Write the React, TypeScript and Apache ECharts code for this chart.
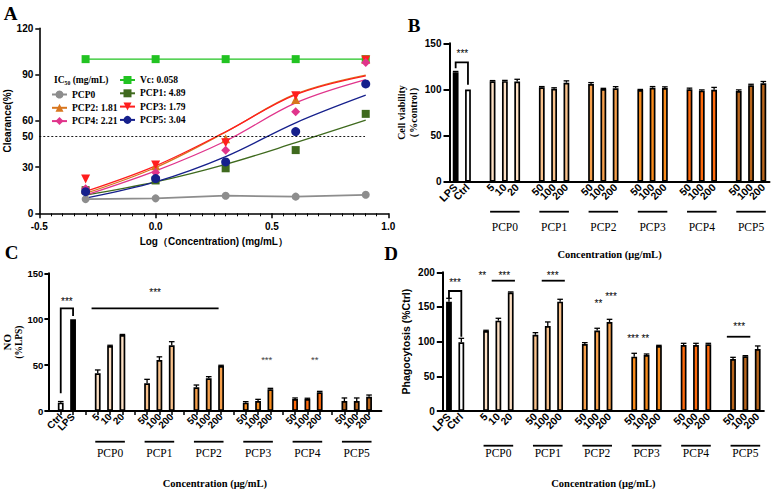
import React, { useEffect, useRef } from "react";
import * as echarts from "echarts";

const SANS = '"Liberation Sans", Arial, sans-serif';
const SERIF = '"Liberation Serif", "Times New Roman", serif';

// ---------------- Panel A data ----------------
const logConcentrations = [-0.301, 0, 0.301, 0.602, 0.903];
const vcClearance = [100, 100, 100, 100, 100];
const pcp0Clearance = [9.2, 9.7, 11.4, 10.8, 12.0];
const pcp1Clearance = [15.0, 21.3, 29.2, 41.0, 64.5];
const pcp2Clearance = [15.7, 30.8, 48.4, 73.8, 100.0];
const pcp3Clearance = [22.2, 31.4, 45.8, 76.3, 99.5];
const pcp4Clearance = [16.0, 26.5, 40.9, 65.8, 97.8];
const pcp5Clearance = [14.0, 22.5, 33.3, 53.0, 83.9];
const pcp1Fit = [11.8, 20.4, 31.8, 45.8, 60.4];
const pcp2Fit = [12.9, 29.7, 52.7, 77.4, 89.7];
const pcp3Fit = [14.2, 30.8, 52.9, 77.0, 89.2];
const pcp4Fit = [11.8, 27.5, 46.9, 71.6, 86.7];
const pcp5Fit = [9.9, 20.4, 36.8, 58.7, 76.6];
const aSeriesNames = ["Vc", "PCP0", "PCP1", "PCP2", "PCP3", "PCP4", "PCP5"];
const aPoints = [vcClearance, pcp0Clearance, pcp1Clearance, pcp2Clearance, pcp3Clearance, pcp4Clearance, pcp5Clearance];
const aFits = [null, null, pcp1Fit, pcp2Fit, pcp3Fit, pcp4Fit, pcp5Fit];
const ic50Values = ["0.058", "", "4.89", "1.81", "1.79", "2.21", "3.04"];
const legendColumn1 = ["PCP0", "PCP2", "PCP4"];
const legendColumn2 = ["Vc", "PCP1", "PCP3", "PCP5"];
const halfClearance = 50;
const halfLineEnd = 0.9;

// ---------------- Bar panels data ----------------
const pcpGroups = ["PCP0", "PCP1", "PCP2", "PCP3", "PCP4", "PCP5"];
const groupConcentrations = [
  ["5", "10", "20"],
  ["50", "100", "200"],
  ["50", "100", "200"],
  ["50", "100", "200"],
  ["50", "100", "200"],
  ["50", "100", "200"],
];

// B: cell viability
const bControls = ["LPS", "Ctrl"];
const bControlValues = [118.5, 100];
const bControlErrors = [1.0, 0];
const bValues = [
  [108.8, 109.0, 108.5],
  [102.3, 100.8, 107.3],
  [105.9, 100.5, 101.2],
  [99.4, 101.9, 101.6],
  [100.1, 98.7, 99.7],
  [98.3, 104.4, 106.6],
];
const bErrors = [
  [0.8, 0.8, 2.5],
  [0.8, 1.0, 2.0],
  [1.5, 0.7, 1.8],
  [0.6, 1.2, 1.2],
  [1.3, 0.8, 2.5],
  [1.2, 1.2, 2.0],
];
const bSigTexts = [{ x: 0.55, y: 140.6, text: "***" }];
const bSigLines = [[[0, 123], [0, 129.4], [1, 129.4], [1, 105]]];

// C: NO
const cControls = ["Ctrl", "LPS"];
const cControlValues = [9.1, 100];
const cControlErrors = [1.2, 0];
const cValues = [
  [41.0, 70.8, 82.8],
  [30.1, 55.6, 71.6],
  [25.8, 35.6, 49.0],
  [9.1, 10.9, 23.6],
  [13.1, 13.1, 20.3],
  [10.9, 10.9, 15.6],
];
const cErrors = [
  [3.7, 0.8, 0.6],
  [4.4, 3.4, 3.9],
  [2.5, 1.8, 0.8],
  [1.1, 1.8, 1.1],
  [1.1, 0.8, 1.1],
  [3.3, 3.3, 1.8],
];
const cSigTexts = [
  { x: 0.5, y: 121.7, text: "***" },
  { x: 7.65, y: 131, text: "***" },
  { x: 16.7, y: 58.5, text: "***", muted: true },
  { x: 20.6, y: 58.5, text: "**", muted: true },
];
const cSigLines = [
  [[0, 19.3], [0, 111.9], [1, 111.9], [1, 103.5]],
  [[2.5, 111.9], [12.8, 111.9]],
];

// D: phagocytosis
const dControls = ["LPS", "Ctrl"];
const dControlValues = [157.7, 99.0];
const dControlErrors = [4.8, 5.8];
const dValues = [
  [115.4, 130.3, 170.7],
  [110.0, 122.6, 157.7],
  [96.6, 115.9, 128.4],
  [78.4, 80.8, 93.8],
  [95.2, 95.2, 96.2],
  [75.0, 78.8, 89.4],
];
const dErrors = [
  [1.0, 3.4, 1.0],
  [3.0, 5.8, 3.4],
  [2.0, 3.4, 3.8],
  [4.8, 1.4, 0.9],
  [2.4, 2.4, 1.4],
  [2.4, 1.0, 4.4],
];
const dSigTexts = [
  { x: 0.49, y: 187.9, text: "***" },
  { x: 2.7, y: 198.6, text: "**" },
  { x: 4.48, y: 198.6, text: "***" },
  { x: 8.4, y: 198.6, text: "***" },
  { x: 12.1, y: 158.6, text: "**" },
  { x: 13.12, y: 167.3, text: "***" },
  { x: 14.9, y: 107.1, text: "***" },
  { x: 15.9, y: 107.1, text: "**" },
  { x: 23.5, y: 125.4, text: "***" },
];
const dSigLines = [
  [[0, 162.5], [0, 173], [1, 173], [1, 107]],
  [[3.46, 187.9], [5.34, 187.9]],
  [[7.51, 187.9], [9.38, 187.9]],
  [[22.5, 107.1], [24.4, 107.1]],
];

// ---------------- Styles ----------------
const aStyles: Record<string, any> = {
  Vc: { color: "#22c322", symbol: "rect", size: 8, rotate: 0, connect: true, width: 1.4 },
  PCP0: { color: "#8d8d8d", symbol: "circle", size: 8, rotate: 0, connect: true, width: 1.8 },
  PCP1: { color: "#3f6a1e", symbol: "rect", size: 8, rotate: 0 },
  PCP2: { color: "#d8761e", symbol: "triangle", size: 9, rotate: 0 },
  PCP3: { color: "#ff1e1e", symbol: "triangle", size: 9, rotate: 180 },
  PCP4: { color: "#e0348b", symbol: "diamond", size: 9, rotate: 0 },
  PCP5: { color: "#16208c", symbol: "circle", size: 9, rotate: 0 },
};
const groupColors = ["#fde0c4", "#f9c28c", "#f6a04c", "#f98c1c", "#ff6a0c", "#b8651c"];
const controlFills: Record<string, string> = { LPS: "#000000", Ctrl: "#ffffff" };

const pt = (api: any, x: number, y: number) => {
  const i = Math.floor(x);
  const f = x - i;
  const a = api.coord([i, y]);
  if (f === 0) return a;
  const b = api.coord([i + 1, y]);
  return [a[0] + (b[0] - a[0]) * f, a[1]];
};

function buildBarPanel(gi: number, d: any, lay: any) {
  const pad = lay.pad ? 1 : 0;
  const labels: string[] = [];
  const barData: any[] = [];
  const errs: { i: number; v: number; e: number }[] = [];
  if (pad) { labels.push(""); barData.push("-"); }
  d.controls.forEach((c: string, k: number) => {
    errs.push({ i: labels.length, v: d.controlValues[k], e: d.controlErrors[k] });
    labels.push(c);
    barData.push({ value: d.controlValues[k], itemStyle: { color: controlFills[c] } });
  });
  const spans: { name: string; mid: number }[] = [];
  pcpGroups.forEach((g, gIdx) => {
    labels.push(""); barData.push("-");
    const start = labels.length;
    groupConcentrations[gIdx].forEach((c, k) => {
      errs.push({ i: labels.length, v: d.values[gIdx][k], e: d.errors[gIdx][k] });
      labels.push(c);
      barData.push({ value: d.values[gIdx][k], itemStyle: { color: groupColors[gIdx] } });
    });
    spans.push({ name: g, mid: start + 1 });
  });
  if (pad) { labels.push(""); barData.push("-"); }
  const n = labels.length;
  const cats = labels.map((_, i) => "c" + i);

  const grid = { left: lay.left, top: lay.top, width: lay.width, height: lay.height, containLabel: false, outerBoundsMode: "none" };
  const xAxis = {
    type: "category", gridIndex: gi, data: cats, boundaryGap: !pad,
    axisLine: { lineStyle: { color: "#000", width: 2 } },
    axisTick: {
      alignWithLabel: true, length: 4, lineStyle: { color: "#000", width: 1.5 },
      interval: pad ? (i: number) => i > 0 && i < n - 1 : 0,
    },
    axisLabel: {
      interval: 0, rotate: 45, margin: 4, color: "#000", fontFamily: SANS, fontWeight: "bold",
      fontSize: lay.xLabelSize, formatter: (_v: string, i: number) => labels[i],
    },
    splitLine: { show: false },
    name: "Concentration (μg/mL)", nameLocation: "middle", nameGap: 67,
    nameTextStyle: { fontFamily: SERIF, fontWeight: "bold", fontSize: 10.5, color: "#000" },
  };
  const yAxis = {
    type: "value", gridIndex: gi, min: 0, max: lay.yMax, interval: 50,
    axisLine: { show: true, lineStyle: { color: "#000", width: 2 } },
    axisTick: { show: true, length: lay.yTick, lineStyle: { color: "#000", width: 2 } },
    axisLabel: { margin: lay.yMargin, color: "#000", fontFamily: SANS, fontWeight: "bold", fontSize: lay.yLabelSize },
    splitLine: { show: false },
    name: lay.yName, nameLocation: "middle", nameGap: lay.yNameGap,
    nameTextStyle: lay.yNameStyle,
  };
  const series: any[] = [
    {
      type: "bar", xAxisIndex: gi, yAxisIndex: gi, data: barData, barWidth: 5.8,
      itemStyle: { borderColor: "#000", borderWidth: 1.7 }, z: 2, silent: true,
    },
    {
      type: "custom", xAxisIndex: gi, yAxisIndex: gi, z: 3, silent: true, clip: false,
      data: errs.map((e) => [e.i, e.v]),
      renderItem: (params: any, api: any) => {
        const e = errs[params.dataIndex];
        if (!e.e) return null;
        const p0 = api.coord([e.i, e.v]);
        const p1 = api.coord([e.i, e.v + e.e]);
        return {
          type: "group",
          children: [
            { type: "line", shape: { x1: p0[0], y1: p0[1], x2: p1[0], y2: p1[1] }, style: { stroke: "#000", lineWidth: 1.3 } },
            { type: "line", shape: { x1: p1[0] - 2.8, y1: p1[1], x2: p1[0] + 2.8, y2: p1[1] }, style: { stroke: "#000", lineWidth: 1.3 } },
          ],
        };
      },
    },
    {
      type: "custom", xAxisIndex: gi, yAxisIndex: gi, z: 4, silent: true, clip: false,
      data: spans.map((s) => [s.mid, 0]),
      renderItem: (params: any, api: any) => {
        const s = spans[params.dataIndex];
        const p = api.coord([s.mid, 0]);
        const slot = api.coord([s.mid + 1, 0])[0] - p[0];
        return {
          type: "group",
          children: [
            { type: "line", shape: { x1: p[0] - slot * 1.2, y1: p[1] + lay.groupLine, x2: p[0] + slot * 1.2, y2: p[1] + lay.groupLine }, style: { stroke: "#000", lineWidth: 1.8 } },
            { type: "text", x: p[0], y: p[1] + lay.groupLabel, style: { text: s.name, font: '11.5px "Liberation Serif"', fill: "#000", textAlign: "center", textVerticalAlign: "middle", align: "center", verticalAlign: "middle" } },
          ],
        };
      },
    },
    {
      type: "custom", xAxisIndex: gi, yAxisIndex: gi, z: 5, silent: true, clip: false,
      data: d.sigLines.map(() => [0, 0]),
      renderItem: (params: any, api: any) => {
        const line = d.sigLines[params.dataIndex];
        const points = line.map((q: number[]) => pt(api, q[0] + pad, q[1]));
        return { type: "polyline", shape: { points }, style: { stroke: "#000", lineWidth: 1.8, fill: "none" } };
      },
    },
    {
      type: "custom", xAxisIndex: gi, yAxisIndex: gi, z: 5, silent: true, clip: false,
      data: d.sigTexts.map(() => [0, 0]),
      renderItem: (params: any, api: any) => {
        const t = d.sigTexts[params.dataIndex];
        const p = pt(api, t.x + pad, t.y);
        return {
          type: "text", x: p[0], y: p[1] + 2,
          style: {
            text: t.text, font: (t.muted ? "9.5px" : "10px") + ' "Liberation Sans"', fill: t.muted ? "#444" : "#000",
            textAlign: "center", textVerticalAlign: "middle", align: "center", verticalAlign: "middle",
          },
        };
      },
    },
  ];
  return { grid, xAxis, yAxis, series };
}

function buildOption() {
  // Panel A
  const aSeries: any[] = [];
  aSeriesNames.forEach((name, k) => {
    const st = aStyles[name];
    const fit = aFits[k];
    if (fit) {
      aSeries.push({
        type: "line", name: name + " fit", xAxisIndex: 0, yAxisIndex: 0, smooth: 0.35, symbol: "none",
        data: logConcentrations.map((x, i) => [x, fit[i]]), lineStyle: { color: st.color, width: 1.3 }, z: 3, silent: true,
      });
    }
  });
  aSeriesNames.forEach((name, k) => {
    const st = aStyles[name];
    const s: any = {
      type: "line", name, xAxisIndex: 0, yAxisIndex: 0, symbol: st.symbol, symbolSize: st.size, symbolRotate: st.rotate,
      showAllSymbol: true, data: logConcentrations.map((x, i) => [x, aPoints[k][i]]),
      itemStyle: { color: st.color }, lineStyle: st.connect ? { color: st.color, width: st.width } : { color: st.color, width: 0 },
      z: 5, silent: true,
    };
    if (name === "PCP0") {
      s.markLine = {
        silent: true, symbol: "none",
        lineStyle: { color: "#000", width: 0.9, type: [2, 2] },
        label: { show: true, position: "start", formatter: String(halfClearance), color: "#000", fontFamily: SANS, fontWeight: "bold", fontSize: 10, distance: 6 },
        data: [[{ coord: [-0.5, halfClearance] }, { coord: [halfLineEnd, halfClearance] }]],
      };
    }
    aSeries.push(s);
  });

  const legendText = { fontFamily: SERIF, fontWeight: "bold", fontSize: 9.5, color: "#000" };
  const legendFmt = (nm: string) => {
    const v = ic50Values[aSeriesNames.indexOf(nm)];
    return v ? nm + ": " + v : nm;
  };
  const legends = [
    { data: legendColumn2, left: 119, top: 75 },
    { data: legendColumn1, left: 51, top: 89.5 },
  ].map((l) => ({
    ...l, orient: "vertical", itemWidth: 15, itemHeight: 10, itemGap: 3.3, selectedMode: false,
    textStyle: legendText, formatter: legendFmt, lineStyle: { width: 2 }, padding: 0, itemStyle: { borderWidth: 0 },
  }));

  const panelB = buildBarPanel(1, { controls: bControls, controlValues: bControlValues, controlErrors: bControlErrors, values: bValues, errors: bErrors, sigTexts: bSigTexts, sigLines: bSigLines }, {
    pad: false, left: 449.5, top: 43.3, width: 320, height: 138.4, yMax: 150, yTick: 6, yMargin: 8, yLabelSize: 10, xLabelSize: 10.5,
    groupLine: 30, groupLabel: 45,
    yName: "Cell viability\n（%control）", yNameGap: 30,
    yNameStyle: { fontFamily: SERIF, fontWeight: "bold", fontSize: 10, color: "#000", lineHeight: 12 },
  });
  const panelC = buildBarPanel(2, { controls: cControls, controlValues: cControlValues, controlErrors: cControlErrors, values: cValues, errors: cErrors, sigTexts: cSigTexts, sigLines: cSigLines }, {
    pad: true, left: 48.4, top: 273.3, width: 333, height: 137.7, yMax: 150, yTick: 4, yMargin: 5, yLabelSize: 9.5, xLabelSize: 10,
    groupLine: 30.7, groupLabel: 42.3,
    yName: "{a|NO}\n{b|(%LPS)}", yNameGap: 19,
    yNameStyle: {
      color: "#000",
      rich: {
        a: { fontFamily: SERIF, fontWeight: "bold", fontSize: 11, lineHeight: 12, color: "#000" },
        b: { fontFamily: SERIF, fontWeight: "bold", fontSize: 9.5, lineHeight: 11, color: "#000" },
      },
    },
  });
  const panelD = buildBarPanel(3, { controls: dControls, controlValues: dControlValues, controlErrors: dControlErrors, values: dValues, errors: dErrors, sigTexts: dSigTexts, sigLines: dSigLines }, {
    pad: false, left: 442.8, top: 272.3, width: 321.1, height: 138.7, yMax: 200, yTick: 6, yMargin: 8, yLabelSize: 10, xLabelSize: 10.5,
    groupLine: 34.7, groupLabel: 42.3,
    yName: "Phagocytosis (%Ctrl)", yNameGap: 31,
    yNameStyle: { fontFamily: SANS, fontWeight: "bold", fontSize: 10.5, color: "#000" },
  });

  const titleText = (t: string, x: number, y: number) => ({
    type: "text", x, y, silent: true,
    style: { text: t, font: 'bold 19px "Liberation Serif"', fill: "#000", textAlign: "center", textVerticalAlign: "middle", align: "center", verticalAlign: "middle" },
  });

  return {
    animation: false,
    backgroundColor: "#ffffff",
    grid: [
      { left: 39.3, top: 28.3, width: 349, height: 185, containLabel: false, outerBoundsMode: "none" },
      panelB.grid, panelC.grid, panelD.grid,
    ],
    xAxis: [
      {
        type: "value", gridIndex: 0, min: -0.5, max: 1.0, interval: 0.5,
        axisLine: { onZero: false, lineStyle: { color: "#000", width: 1.6 } },
        axisTick: { show: true, length: 5, lineStyle: { color: "#000", width: 1.5 } },
        minorTick: { show: true, splitNumber: 10, length: 3, lineStyle: { color: "#000", width: 1 } },
        axisLabel: { margin: 8, color: "#000", fontFamily: SANS, fontWeight: "bold", fontSize: 10, formatter: (v: number) => v.toFixed(1) },
        splitLine: { show: false },
        name: "Log（Concentration) (mg/mL）", nameLocation: "middle", nameGap: 23,
        nameTextStyle: { fontFamily: SANS, fontWeight: "bold", fontSize: 10, color: "#000" },
      },
      panelB.xAxis, panelC.xAxis, panelD.xAxis,
    ],
    yAxis: [
      {
        type: "value", gridIndex: 0, min: 0, max: 120, interval: 30,
        axisLine: { show: true, onZero: false, lineStyle: { color: "#000", width: 1.6 } },
        axisTick: { show: true, length: 4, lineStyle: { color: "#000", width: 1.5 } },
        axisLabel: { margin: 6, color: "#000", fontFamily: SANS, fontWeight: "bold", fontSize: 10 },
        splitLine: { show: false },
        name: "Clearance(%)", nameLocation: "middle", nameGap: 24,
        nameTextStyle: { fontFamily: SANS, fontWeight: "bold", fontSize: 10, color: "#000" },
      },
      panelB.yAxis, panelC.yAxis, panelD.yAxis,
    ],
    legend: legends,
    graphic: [
      titleText("A", 10.5, 13.5),
      titleText("B", 414, 25),
      titleText("C", 11.5, 252.5),
      titleText("D", 391, 253.5),
      {
        type: "text", x: 54, y: 80, silent: true,
        style: { text: "IC₅₀ (mg/mL)", font: 'bold 9.5px "Liberation Serif"', fill: "#000", textAlign: "left", textVerticalAlign: "middle", align: "left", verticalAlign: "middle" },
      },
    ],
    series: [...aSeries, ...panelB.series, ...panelC.series, ...panelD.series],
  };
}

export default function App() {
  const ref = useRef<HTMLDivElement>(null);
  useEffect(() => {
    if (!ref.current) return;
    const chart = echarts.init(ref.current, undefined, { renderer: "svg", width: 777, height: 489 });
    chart.setOption(buildOption() as any);
    return () => chart.dispose();
  }, []);
  return (
    <div
      ref={ref}
      style={{ position: "absolute", left: 0, top: 0, width: 777, height: 489, background: "#fff" }}
    />
  );
}
